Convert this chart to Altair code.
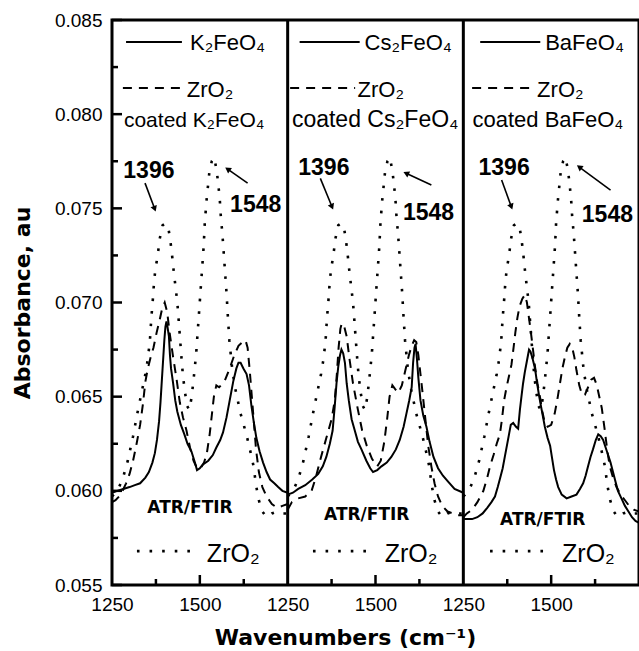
import math
import altair as alt
import pandas as pd

# ---------------- data ----------------
PANEL_NAMES = ["K₂FeO₄", "Cs₂FeO₄", "BaFeO₄"]
W0 = 1250          # wavenumber at left of each panel
SPAN = 500         # wavenumber span of a panel

# ZrO2 (dotted), same spectrum in every panel
zro2_w = [1250,1265,1280,1295,1310,1322,1334,1345,1352,1358,1362,1366,1369,1373,1380,1386,1394,1402,1410,1416,
          1421,1426,1431,1436,1440,1444,1448,1452,1458,1464,1470,1476,1481,1486,1490,1493,1496,1499,1502,1505,
          1508,1511,1514,1519,1527,1534,1541,1548,1553,1557,1560,1564,1567,1570,1573,1576,1579,1584,1592,1600,
          1608,1616,1625,1635,1645,1653,1660,1668,1678,1690,1705,1720,1735,1750]
zro2_a = [0.0597,0.0600,0.0606,0.0616,0.0629,0.0641,0.0652,0.0662,0.0670,0.0680,0.0692,0.0701,0.0709,0.0717,0.0725,
          0.0734,0.0741,0.0742,0.0740,0.0733,0.0725,0.0716,0.0708,0.0700,0.0690,0.0680,0.0670,0.0661,0.0652,0.0645,
          0.0643,0.0649,0.0657,0.0666,0.0674,0.0682,0.0690,0.0698,0.0706,0.0714,0.0722,0.0730,0.0742,0.0754,0.0769,
          0.0775,0.0777,0.0770,0.0762,0.0754,0.0745,0.0737,0.0729,0.0721,0.0713,0.0705,0.0695,0.0680,0.0665,0.0655,
          0.0648,0.0641,0.0635,0.0628,0.0620,0.0613,0.0603,0.0595,0.0589,0.0586,0.0588,0.0589,0.0588,0.0588]

# K2FeO4 (solid) and ZrO2 coated K2FeO4 (dashed)
k_w = [1250,1265,1282,1300,1315,1330,1345,1355,1365,1372,1378,1384,1388,1391,1395,1399,1402,1405,1408,1412,
       1415,1418,1424,1430,1436,1446,1456,1465,1476,1486,1492,1500,1509,1524,1537,1547,1558,1566,1576,1585,
       1595,1604,1610,1616,1624,1633,1640,1647,1654,1661,1670,1680,1690,1700,1712,1723,1735,1750]
k_a = [0.0599,0.0600,0.0601,0.0602,0.0603,0.0604,0.0607,0.0610,0.0615,0.0620,0.0627,0.0637,0.0647,0.0656,0.0668,
       0.0680,0.0687,0.0690,0.0687,0.0682,0.0672,0.0665,0.0657,0.0648,0.0642,0.0635,0.0630,0.0625,0.0621,0.0615,
       0.0611,0.0612,0.0614,0.0616,0.0619,0.0623,0.0627,0.0631,0.0639,0.0648,0.0658,0.0665,0.0668,0.0668,0.0665,
       0.0662,0.0656,0.0645,0.0636,0.0628,0.0621,0.0615,0.0610,0.0606,0.0604,0.0602,0.0600,0.0599]
kc_w = [1250,1260,1275,1290,1300,1310,1320,1330,1338,1345,1352,1360,1368,1377,1386,1393,1400,1407,1414,1424,
        1434,1443,1452,1462,1472,1482,1492,1502,1512,1520,1528,1534,1540,1547,1555,1570,1585,1598,1610,1622,
        1630,1636,1642,1648,1654,1660,1668,1678,1690,1705,1720,1735,1750]
kc_a = [0.0594,0.0595,0.0598,0.0604,0.0609,0.0616,0.0625,0.0635,0.0646,0.0658,0.0665,0.0671,0.0676,0.0684,0.0691,
        0.0697,0.0700,0.0695,0.0684,0.0671,0.0659,0.0647,0.0639,0.0632,0.0623,0.0616,0.0612,0.0612,0.0615,0.0620,
        0.0630,0.0640,0.0650,0.0656,0.0655,0.0658,0.0665,0.0672,0.0677,0.0679,0.0680,0.0676,0.0664,0.0650,0.0636,
        0.0622,0.0610,0.0602,0.0597,0.0593,0.0591,0.0592,0.0593]

# Cs2FeO4 (solid) and ZrO2 coated Cs2FeO4 (dashed)
cs_w = [1250,1265,1280,1300,1320,1337,1350,1360,1370,1378,1384,1389,1394,1399,1403,1408,1413,1418,1424,1432,
        1441,1450,1460,1474,1485,1493,1505,1517,1532,1545,1558,1569,1580,1588,1596,1603,1607,1611,1614,1618,
        1622,1628,1636,1645,1654,1665,1678,1692,1706,1725,1750]
cs_a = [0.0598,0.0599,0.0601,0.0603,0.0606,0.0609,0.0613,0.0618,0.0625,0.0632,0.0645,0.0657,0.0666,0.0672,0.0675,
        0.0673,0.0668,0.0657,0.0648,0.0638,0.0632,0.0626,0.0622,0.0616,0.0612,0.0610,0.0611,0.0613,0.0615,0.0618,
        0.0622,0.0627,0.0634,0.0641,0.0648,0.0655,0.0668,0.0676,0.0678,0.0670,0.0660,0.0648,0.0640,0.0634,0.0626,
        0.0618,0.0612,0.0608,0.0605,0.0601,0.0599]
csc_w = [1250,1262,1280,1300,1318,1330,1345,1360,1375,1384,1390,1395,1400,1404,1410,1418,1426,1436,1450,1462,
         1475,1490,1505,1515,1525,1533,1540,1548,1556,1565,1575,1585,1595,1603,1610,1616,1622,1628,1634,1642,
         1650,1659,1668,1678,1690,1705,1720,1735,1750]
csc_a = [0.0590,0.0594,0.0596,0.0597,0.0600,0.0607,0.0618,0.0628,0.0638,0.0648,0.0662,0.0676,0.0686,0.0689,0.0688,
         0.0682,0.0670,0.0657,0.0643,0.0632,0.0624,0.0617,0.0613,0.0616,0.0626,0.0638,0.0650,0.0656,0.0654,0.0652,
         0.0656,0.0664,0.0672,0.0677,0.0680,0.0679,0.0672,0.0662,0.0652,0.0638,0.0624,0.0613,0.0604,0.0597,0.0592,
         0.0589,0.0588,0.0587,0.0587]

# BaFeO4 (solid) and ZrO2 coated BaFeO4 (dashed)
ba_w = [1250,1260,1275,1290,1305,1318,1330,1340,1348,1355,1362,1368,1374,1380,1385,1392,1400,1406,1411,1416,
        1420,1425,1430,1434,1437,1441,1446,1454,1460,1466,1473,1482,1490,1497,1502,1508,1514,1520,1530,1544,
        1558,1572,1582,1591,1598,1605,1612,1619,1627,1634,1641,1648,1655,1662,1669,1676,1683,1690,1700,1710,
        1720,1730,1740,1750]
ba_a = [0.0585,0.0585,0.0585,0.0586,0.0588,0.0591,0.0594,0.0597,0.0602,0.0607,0.0612,0.0618,0.0624,0.0630,0.0635,
        0.0636,0.0634,0.0633,0.0643,0.0651,0.0657,0.0663,0.0668,0.0672,0.0675,0.0674,0.0671,0.0665,0.0657,0.0650,
        0.0643,0.0634,0.0628,0.0624,0.0618,0.0611,0.0606,0.0602,0.0598,0.0596,0.0597,0.0598,0.0601,0.0604,0.0608,
        0.0613,0.0618,0.0622,0.0627,0.0630,0.0629,0.0627,0.0623,0.0619,0.0615,0.0610,0.0605,0.0600,0.0596,0.0592,
        0.0589,0.0586,0.0584,0.0583]
bac_w = [1250,1260,1275,1290,1307,1318,1326,1336,1345,1354,1360,1366,1373,1380,1387,1393,1398,1404,1410,1418,
         1425,1431,1436,1441,1447,1454,1461,1468,1475,1482,1490,1500,1510,1518,1525,1532,1539,1546,1553,1560,
         1566,1572,1580,1588,1596,1605,1614,1622,1630,1637,1644,1652,1660,1667,1676,1686,1698,1710,1722,1735,
         1750]
bac_a = [0.0586,0.0588,0.0590,0.0594,0.0600,0.0607,0.0613,0.0619,0.0625,0.0630,0.0638,0.0648,0.0655,0.0661,0.0667,
         0.0676,0.0684,0.0692,0.0698,0.0702,0.0704,0.0700,0.0693,0.0686,0.0677,0.0666,0.0657,0.0650,0.0642,0.0636,
         0.0634,0.0635,0.0641,0.0649,0.0657,0.0665,0.0671,0.0676,0.0678,0.0676,0.0671,0.0664,0.0656,0.0651,0.0651,
         0.0655,0.0659,0.0660,0.0656,0.0650,0.0644,0.0633,0.0621,0.0613,0.0607,0.0602,0.0598,0.0595,0.0592,0.0590,
         0.0589]

ferrate_curves = [(k_w, k_a), (cs_w, cs_a), (ba_w, ba_a)]
coated_curves = [(kc_w, kc_a), (csc_w, csc_a), (bac_w, bac_a)]

# tick labels / ticks
y_major = [0.055, 0.060, 0.065, 0.070, 0.075, 0.080, 0.085]
y_minor = [0.0575, 0.0625, 0.0675, 0.0725, 0.0775, 0.0825]
x_label_values = [0, 250, 500, 750, 1000, 1250]
x_major_inner = [250, 750, 1250]
x_minor = [125, 375, 625, 875, 1125, 1375]
panel_edges = [500, 1000]

# annotations (wavenumber within panel, absorbance)
solid_line = [(1290, 1449), (1284, 1455), (1298, 1469)]
solid_text_x = [1472, 1469, 1483]
dashed_line = [(1281, 1449), (1257, 1442), (1275, 1449)]
dashed_text_x = [1463, 1449, 1460]
coated_x = [1284, 1262, 1276]
coated_size = [21, 23, 22]
dotted_line = [(1321, 1486), (1322, 1498), (1326, 1497)]
dotted_text_x = [1520, 1526, 1531]
peak1396 = [(1355, 0.07661), (1353, 0.07677), (1366, 0.07677)]
peak1548 = [(1659, 0.07480), (1651, 0.07438), (1660, 0.07429)]
arrow1396 = [((1344, 0.07634), (1375, 0.07480)), ((1343, 0.07659), (1380, 0.07491)), ((1359, 0.07650), (1390, 0.07491))]
arrow1548 = [((1636, 0.07634), (1571, 0.07719)), ((1659, 0.07624), (1578, 0.07694)), ((1669, 0.07597), (1572, 0.07730))]
atr_pos = [(1472, 0.05882), (1475, 0.05845), (1476, 0.05818)]

Y_SOLID_LINE, Y_SOLID_TEXT = 0.08383, 0.08341
Y_DASH_LINE, Y_DASH_TEXT = 0.08139, 0.08091
Y_COATED = 0.07932
Y_DOT_LINE, Y_DOT_TEXT = 0.05680, 0.05622

# ---------------- layout ----------------
W, H = 527, 565
XD = [0, 3 * SPAN]
YD = [0.055, 0.085]
PX_X = W / (XD[1] - XD[0])
PX_Y = H / (YD[1] - YD[0])


def xc(p, w):
    return p * SPAN + (w - W0)


rows = []
for p in range(3):
    for w, a in zip(zro2_w, zro2_a):
        rows.append(dict(xc=xc(p, w), A=a, key=f"z{p}", series="dot"))
    fw, fa = ferrate_curves[p]
    for w, a in zip(fw, fa):
        rows.append(dict(xc=xc(p, w), A=a, key=f"f{p}", series="solid"))
    cw, ca = coated_curves[p]
    for w, a in zip(cw, ca):
        rows.append(dict(xc=xc(p, w), A=a, key=f"c{p}", series="dash"))
df = pd.DataFrame(rows)

xscale = alt.Scale(domain=XD, nice=False, zero=False)
yscale = alt.Scale(domain=YD, nice=False, zero=False)
xaxis = alt.Axis(values=x_label_values, labelExpr="format(datum.value % 500 + 1250, 'd')",
                 ticks=False, tickSize=0, domain=False, grid=False, labelFlush=False,
                 labelFont="Liberation Sans", labelFontSize=19, labelColor="black", labelPadding=10,
                 title="Wavenumbers (cm⁻¹)", titleFont="DejaVu Sans", titleFontSize=22,
                 titleFontWeight="bold", titleColor="black", titleX=233, titleY=52, titleBaseline="middle")
yaxis = alt.Axis(values=y_major, format=".3f", ticks=False, tickSize=0, domain=False, grid=False,
                 labelFlush=False, labelFont="Liberation Sans", labelFontSize=19, labelColor="black",
                 labelPadding=10, title="Absorbance, au", titleFont="DejaVu Sans", titleFontSize=22,
                 titleFontWeight="bold", titleColor="black", titleX=-90, titleBaseline="middle")
X = alt.X("xc:Q", scale=xscale, axis=xaxis)
Y = alt.Y("A:Q", scale=yscale, axis=yaxis)

base = alt.Chart(df)
solid = base.transform_filter("datum.series == 'solid'").mark_line(
    color="black", strokeWidth=2, clip=True).encode(x=X, y=Y, detail="key:N")
dash = base.transform_filter("datum.series == 'dash'").mark_line(
    color="black", strokeWidth=2, strokeDash=[9, 7], clip=True).encode(x=X, y=Y, detail="key:N")
dot = base.transform_filter("datum.series == 'dot'").mark_line(
    color="black", strokeWidth=2.6, strokeDash=[2.6, 10], clip=True).encode(x=X, y=Y, detail="key:N")

# dividers
div = alt.Chart(pd.DataFrame({"xc": panel_edges})).mark_rule(color="black", strokeWidth=3).encode(x=X)

# inward ticks
tick_rows = []
for v in y_major:
    tick_rows.append(dict(xc=0, xc2=10 / PX_X, A=v, A2=v))
for v in y_minor:
    tick_rows.append(dict(xc=0, xc2=6 / PX_X, A=v, A2=v))
for v in x_major_inner:
    tick_rows.append(dict(xc=v, xc2=v, A=YD[0], A2=YD[0] + 10 / PX_Y))
for v in x_minor:
    tick_rows.append(dict(xc=v, xc2=v, A=YD[0], A2=YD[0] + 6 / PX_Y))
ticks = alt.Chart(pd.DataFrame(tick_rows)).mark_rule(color="black", strokeWidth=2.5).encode(
    x=X, y=Y, x2="xc2:Q", y2="A2:Q")

# legend sample lines
leg_rows = []
for p in range(3):
    leg_rows.append(dict(xc=xc(p, solid_line[p][0]), xc2=xc(p, solid_line[p][1]), A=Y_SOLID_LINE, s="solid"))
    leg_rows.append(dict(xc=xc(p, dashed_line[p][0]), xc2=xc(p, dashed_line[p][1]), A=Y_DASH_LINE, s="dash"))
    leg_rows.append(dict(xc=xc(p, dotted_line[p][0]), xc2=xc(p, dotted_line[p][1]), A=Y_DOT_LINE, s="dot"))
leg = pd.DataFrame(leg_rows)
leg_solid = alt.Chart(leg).transform_filter("datum.s == 'solid'").mark_rule(
    color="black", strokeWidth=2).encode(x=X, x2="xc2:Q", y=Y)
leg_dash = alt.Chart(leg).transform_filter("datum.s == 'dash'").mark_rule(
    color="black", strokeWidth=2, strokeDash=[9, 7]).encode(x=X, x2="xc2:Q", y=Y)
leg_dot = alt.Chart(leg).transform_filter("datum.s == 'dot'").mark_rule(
    color="black", strokeWidth=2.6, strokeDash=[2.6, 10]).encode(x=X, x2="xc2:Q", y=Y)

# texts
t_leg = []
t_coat = []
t_dot = []
t_peak = []
t_atr = []
for p in range(3):
    t_leg.append(dict(xc=xc(p, solid_text_x[p]), A=Y_SOLID_TEXT, label=PANEL_NAMES[p]))
    t_leg.append(dict(xc=xc(p, dashed_text_x[p]), A=Y_DASH_TEXT, label="ZrO₂"))
    t_coat.append(dict(xc=xc(p, coated_x[p]), A=Y_COATED, label="coated " + PANEL_NAMES[p], fs=coated_size[p]))
    t_dot.append(dict(xc=xc(p, dotted_text_x[p]), A=Y_DOT_TEXT, label="ZrO₂"))
    t_peak.append(dict(xc=xc(p, peak1396[p][0]), A=peak1396[p][1], label="1396"))
    t_peak.append(dict(xc=xc(p, peak1548[p][0]), A=peak1548[p][1], label="1548"))
    t_atr.append(dict(xc=xc(p, atr_pos[p][0]), A=atr_pos[p][1], label="ATR/FTIR"))


def text_layer(rows_, **kw):
    return alt.Chart(pd.DataFrame(rows_)).mark_text(color="black", baseline="alphabetic", **kw).encode(
        x=X, y=Y, text="label:N")


txt_leg = text_layer(t_leg, align="left", font="Liberation Sans", fontSize=22)
txt_coat = alt.Chart(pd.DataFrame(t_coat)).mark_text(
    color="black", baseline="alphabetic", align="left", font="Liberation Sans").encode(
    x=X, y=Y, text="label:N", size=alt.Size("fs:Q", scale=None))
txt_dot = text_layer(t_dot, align="left", font="Liberation Sans", fontSize=25)
txt_peak = text_layer(t_peak, align="center", font="Liberation Sans", fontSize=23, fontWeight="bold")
txt_atr = text_layer(t_atr, align="center", font="DejaVu Sans", fontSize=17, fontWeight="bold")

# arrows
arr_rows = []
head_rows = []
for p in range(3):
    for (w1, a1), (w2, a2) in (arrow1396[p], arrow1548[p]):
        x1, x2 = xc(p, w1), xc(p, w2)
        dxp = (x2 - x1) * PX_X
        dyp = -(a2 - a1) * PX_Y
        L = math.hypot(dxp, dyp)
        ux, uy = dxp / L, dyp / L
        back = 3.5
        hx = x2 - ux * back / PX_X
        ha = a2 + uy * back / PX_Y
        ang = math.degrees(math.atan2(ux, -uy)) % 360
        arr_rows.append(dict(xc=x1, A=a1, xc2=hx, A2=ha))
        head_rows.append(dict(xc=hx, A=ha, ang=ang))
arrows = alt.Chart(pd.DataFrame(arr_rows)).mark_rule(color="black", strokeWidth=1.6).encode(
    x=X, y=Y, x2="xc2:Q", y2="A2:Q")
heads = alt.Chart(pd.DataFrame(head_rows)).mark_point(
    shape="triangle-up", filled=True, color="black", size=45, opacity=1).encode(
    x=X, y=Y, angle=alt.Angle("ang:Q", scale=None))

chart = alt.layer(
    dot, dash, solid, div, ticks, leg_solid, leg_dash, leg_dot,
    txt_leg, txt_coat, txt_dot, txt_peak, txt_atr, arrows, heads
).properties(
    width=W, height=H,
    autosize=alt.AutoSizeParams(type="none"),
    padding={"left": 112, "top": 20, "right": 0, "bottom": 66},
    background="white",
).configure_view(stroke="black", strokeWidth=3)

chart.save("out.html", embed_options={"renderer": "svg", "actions": False})
